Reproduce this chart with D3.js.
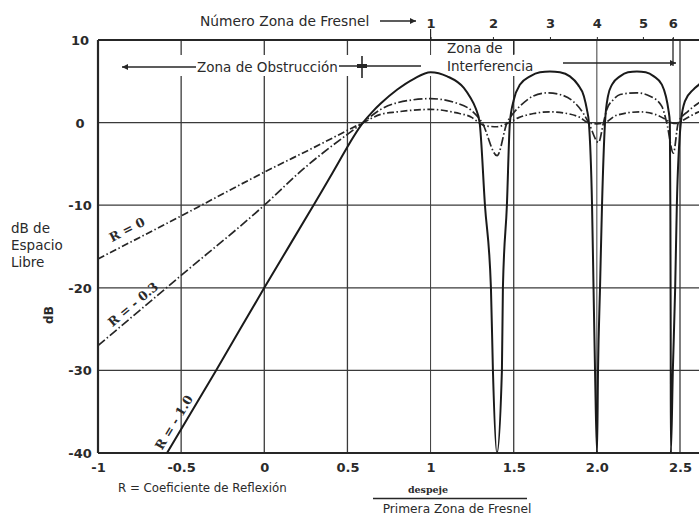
<!DOCTYPE html>
<html>
<head>
<meta charset="utf-8">
<script src="https://cdn.jsdelivr.net/npm/d3@7/dist/d3.min.js"></script>
<style>
  html, body { margin: 0; padding: 0; background: #fff; }
  svg { display: block; }
  text { font-family: "DejaVu Sans", sans-serif; fill: #2a2a2a; }
</style>
</head>
<body>
<svg id="chart" width="699" height="517"></svg>
<script>
// ---------- data ----------
const xTicks = [-1, -0.5, 0, 0.5, 1, 1.5, 2, 2.5];
const xTickLabels = ["-1", "-0.5", "0", "0.5", "1", "1.5", "2.0", "2.5"];
const yTicks = [10, 0, -10, -20, -30, -40];
const yTickLabels = ["10", "0", "-10", "-20", "-30", "-40"];
const hGrid = [0, -10, -20, -30];
const vGrid = [-0.5, 0, 0.5, 1, 1.5, 2, 2.5];
const fresnelPos = [1, 1.375, 1.718, 2.0, 2.277, 2.457];
const fresnelLabels = ["1", "2", "3", "4", "5", "6"];

// R = -1.0 (solid)
const seriesR10 = [
  [-0.585, -40], [-0.29, -30], [0, -20], [0.305, -9.7], [0.41, -6.1], [0.594, 0],
  [0.65, 1.3], [0.7, 2.3], [0.8, 4.0], [0.9, 5.3], [1.0, 6.1], [1.1, 5.6], [1.2, 4.2], [1.24, 3.0], [1.27, 1.8],
  [1.295, 0], [1.327, -10], [1.363, -20], [1.375, -30], [1.399, -40],
  [1.429, -30], [1.435, -20], [1.459, -10], [1.477, 0],
  [1.501, 2.8], [1.538, 4.6], [1.598, 5.6], [1.658, 6.1], [1.718, 6.2], [1.778, 6.1], [1.838, 5.6],
  [1.886, 4.6], [1.922, 3.2], [1.940, 1.6],
  [1.952, 0], [1.971, -10], [1.980, -20], [1.989, -30], [2.001, -40],
  [2.007, -30], [2.019, -20], [2.031, -10], [2.049, 0],
  [2.067, 3.2], [2.091, 4.6], [2.139, 5.6], [2.187, 6.1], [2.241, 6.2], [2.294, 6.1], [2.343, 5.6],
  [2.391, 4.6], [2.415, 3.2], [2.430, 1.6],
  [2.439, 0], [2.442, -10], [2.444, -25], [2.445, -40],
  [2.457, -30], [2.471, -20], [2.481, -10], [2.505, 0],
  [2.53, 2.6], [2.58, 4.0], [2.614, 4.6], [2.66, 5.4]
];
// R = -0.3 (dash-dot, upper)
const seriesR03 = [
  [-1, -27], [-0.5, -18.5], [0, -10], [0.23, -5.7], [0.594, 0],
  [0.7, 1.6], [0.8, 2.4], [1.0, 2.9], [1.15, 2.4], [1.25, 1.4], [1.31, 0],
  [1.40, -4.0], [1.46, 0],
  [1.50, 1.2], [1.538, 2.0], [1.616, 3.2], [1.70, 3.6], [1.778, 3.4], [1.856, 2.6], [1.916, 1.2], [1.95, 0],
  [2.01, -2.4], [2.04, 0],
  [2.06, 1.6], [2.10, 2.8], [2.14, 3.4], [2.24, 3.6], [2.32, 3.2], [2.39, 2.0], [2.42, 0],
  [2.46, -3.7], [2.49, 0],
  [2.55, 1.4], [2.614, 2.4], [2.66, 3.0]
];
// R = 0 (dash-dot, lower)
const seriesR0 = [
  [-1, -16.5], [-0.5, -11.3], [0, -6.0], [0.3, -3.0], [0.594, 0],
  [0.7, 1.0], [0.8, 1.3], [1.0, 1.6], [1.15, 1.2], [1.25, 0.6], [1.29, 0],
  [1.33, -0.4], [1.40, -0.5], [1.47, 0],
  [1.53, 0.6], [1.62, 1.1], [1.718, 1.3], [1.82, 1.1], [1.9, 0.6], [1.946, 0],
  [2.0, -0.15], [2.049, 0],
  [2.12, 0.9], [2.259, 1.3], [2.35, 1.0], [2.42, 0.3], [2.445, 0],
  [2.48, -0.1], [2.51, 0.2], [2.614, 1.3], [2.66, 1.6]
];

// ---------- layout ----------
const svg = d3.select("#chart");
const X0 = 98, X25 = 680, YT = 40, YB = 453, XR = 699;
const x = d3.scaleLinear().domain([-1, 2.5]).range([X0, X25]);
const y = d3.scaleLinear().domain([-40, 10]).range([YB, YT]);
const ink = "#262626";

svg.append("defs").append("clipPath").attr("id", "plot")
  .append("rect").attr("x", X0).attr("y", YT).attr("width", XR - X0).attr("height", YB - YT);

// grid
const g = svg.append("g");
g.selectAll(".hg").data(hGrid).join("line")
  .attr("x1", X0).attr("x2", XR).attr("y1", d => y(d)).attr("y2", d => y(d))
  .attr("stroke", "#3a3a3a").attr("stroke-width", 1.3);
g.selectAll(".vg").data(vGrid).join("line")
  .attr("x1", d => x(d)).attr("x2", d => x(d)).attr("y1", YT).attr("y2", YB)
  .attr("stroke", "#3a3a3a").attr("stroke-width", d => (d === 2 || d === 1) ? 1.0 : 1.3);
// gaps in gridlines along the zone-arrow row
g.append("rect").attr("x", X0 + 2).attr("y", 55).attr("width", x(1.5) + 3 - X0 - 2).attr("height", 21)
  .attr("fill", "#fff");

// frame
svg.append("line").attr("x1", X0).attr("x2", XR).attr("y1", YT).attr("y2", YT).attr("stroke", ink).attr("stroke-width", 2);
svg.append("line").attr("x1", X0).attr("x2", XR).attr("y1", YB).attr("y2", YB).attr("stroke", ink).attr("stroke-width", 2);
svg.append("line").attr("x1", X0).attr("x2", X0).attr("y1", YT).attr("y2", YB).attr("stroke", ink).attr("stroke-width", 2.2);
// extra marker lines near top
svg.append("line").attr("x1", x(1)).attr("x2", x(1)).attr("y1", 29).attr("y2", YT).attr("stroke", ink).attr("stroke-width", 1.2);
svg.append("line").attr("x1", 673).attr("x2", 673).attr("y1", YT - 2).attr("y2", 66).attr("stroke", ink).attr("stroke-width", 1.3);

// curves
const line = d3.line().x(d => x(d[0])).y(d => y(d[1])).curve(d3.curveMonotoneX);
const cg = svg.append("g").attr("clip-path", "url(#plot)").attr("fill", "none");
cg.append("path").datum(seriesR0).attr("d", line)
  .attr("stroke", ink).attr("stroke-width", 1.7).attr("stroke-dasharray", "7,2.5,1.5,2.5");
cg.append("path").datum(seriesR03).attr("d", line)
  .attr("stroke", ink).attr("stroke-width", 1.7).attr("stroke-dasharray", "9,2.5,1.5,2.5");
cg.append("path").datum(seriesR10).attr("d", line)
  .attr("stroke", "#1a1a1a").attr("stroke-width", 2);

// axes
const xAxis = svg.append("g").attr("transform", `translate(0,${YB})`)
  .call(d3.axisBottom(x).tickValues(xTicks).tickSize(0).tickPadding(10)
    .tickFormat((d, i) => xTickLabels[i]));
xAxis.select(".domain").remove();
xAxis.selectAll("text").style("font-family", "DejaVu Sans, sans-serif").style("font-size", "13px")
  .style("font-weight", "bold").attr("fill", "#2a2a2a");

const yAxis = svg.append("g").attr("transform", `translate(80,0)`)
  .call(d3.axisLeft(y).tickValues(yTicks).tickSize(0).tickPadding(0)
    .tickFormat((d, i) => yTickLabels[i]));
yAxis.select(".domain").remove();
yAxis.selectAll("text").attr("text-anchor", "middle").attr("dy", "0.35em")
  .style("font-family", "DejaVu Sans, sans-serif").style("font-size", "13px")
  .style("font-weight", "bold").attr("fill", "#2a2a2a");

const topAxis = svg.append("g").attr("transform", `translate(0,${YT})`)
  .call(d3.axisTop(x).tickValues(fresnelPos).tickSize(3).tickPadding(9)
    .tickFormat((d, i) => fresnelLabels[i]));
topAxis.select(".domain").remove();
topAxis.selectAll("line").attr("stroke", ink);
topAxis.selectAll("text").style("font-family", "DejaVu Sans, sans-serif").style("font-size", "13px")
  .style("font-weight", "bold").attr("fill", "#2a2a2a");

// arrow markers
const defs = svg.select("defs");
defs.append("marker").attr("id", "ah").attr("viewBox", "0 0 10 10").attr("refX", 10).attr("refY", 5)
  .attr("markerWidth", 9).attr("markerHeight", 6).attr("markerUnits", "userSpaceOnUse").attr("orient", "auto")
  .append("path").attr("d", "M0,0 L10,5 L0,10 Z").attr("fill", ink);

// top title
svg.append("text").attr("x", 200).attr("y", 26).style("font-size", "13.8px").text("Número Zona de Fresnel");
svg.append("line").attr("x1", 380).attr("x2", 416).attr("y1", 21).attr("y2", 21)
  .attr("stroke", ink).attr("stroke-width", 1.3).attr("marker-end", "url(#ah)");

// obstruction zone arrow
svg.append("line").attr("x1", 196).attr("x2", 122).attr("y1", 67).attr("y2", 67)
  .attr("stroke", ink).attr("stroke-width", 1.3).attr("marker-end", "url(#ah)");
svg.append("text").attr("x", 197).attr("y", 71.5).style("font-size", "13.5px").text("Zona de Obstrucción");
svg.append("line").attr("x1", 339).attr("x2", 421).attr("y1", 66).attr("y2", 66)
  .attr("stroke", ink).attr("stroke-width", 1.3);
svg.append("line").attr("x1", 362).attr("x2", 362).attr("y1", 56).attr("y2", 78)
  .attr("stroke", ink).attr("stroke-width", 1.6);
svg.append("rect").attr("x", 357).attr("y", 64).attr("width", 10).attr("height", 4).attr("fill", ink);

// interference zone
svg.append("text").attr("x", 447).attr("y", 53).style("font-size", "13.5px").text("Zona de");
svg.append("text").attr("x", 447).attr("y", 71).style("font-size", "13.5px").text("Interferencia");
svg.append("line").attr("x1", x(1.5)).attr("x2", x(1.5)).attr("y1", YT).attr("y2", 54)
  .attr("stroke", ink).attr("stroke-width", 1.2);
svg.append("line").attr("x1", 563).attr("x2", 676).attr("y1", 63).attr("y2", 63)
  .attr("stroke", ink).attr("stroke-width", 1.3).attr("marker-end", "url(#ah)");

// y label
const yl = svg.append("text").attr("x", 11).style("font-size", "13.5px");
yl.append("tspan").attr("x", 11).attr("y", 233).text("dB de");
yl.append("tspan").attr("x", 11).attr("y", 250).text("Espacio");
yl.append("tspan").attr("x", 11).attr("y", 267).text("Libre");
svg.append("text").attr("transform", "translate(53,315) rotate(-90)").attr("text-anchor", "middle")
  .style("font-size", "12px").style("font-weight", "bold").text("dB");

// bottom labels
svg.append("text").attr("x", 118).attr("y", 492).style("font-size", "11.8px").text("R = Coeficiente de Reflexión");
svg.append("text").attr("x", 428).attr("y", 493).attr("text-anchor", "middle")
  .style("font-family", "DejaVu Serif, serif").style("font-size", "9.5px").style("font-weight", "bold").text("despeje");
svg.append("line").attr("x1", 373).attr("x2", 527).attr("y1", 498.5).attr("y2", 498.5)
  .attr("stroke", ink).attr("stroke-width", 1.3);
svg.append("text").attr("x", 457).attr("y", 513).attr("text-anchor", "middle")
  .style("font-size", "12.2px").text("Primera Zona de Fresnel");

// curve labels
const curveLabels = [
  { t: "R = 0", xv: -0.826, yv: -12.95, a: -27 },
  { t: "R = - 0.3", xv: -0.79, yv: -22.0, a: -40 },
  { t: "R = - 1.0", xv: -0.543, yv: -36.3, a: -59 }
];
svg.selectAll(".cl").data(curveLabels).join("text")
  .attr("transform", d => `translate(${x(d.xv)},${y(d.yv)}) rotate(${d.a})`)
  .attr("text-anchor", "middle").attr("dy", "0.35em")
  .style("font-family", "DejaVu Serif, serif").style("font-size", "12.5px").style("font-weight", "bold")
  .text(d => d.t);
</script>
</body>
</html>
